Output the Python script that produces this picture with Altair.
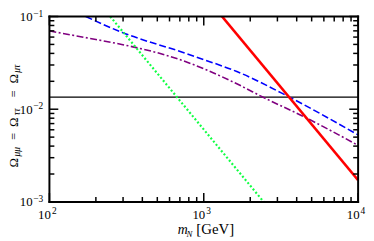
import altair as alt
import pandas as pd

# ---- data ----
blue_m = [172, 297, 711, 1000, 1637, 3589, 10000]
blue_v = [0.1, 0.0671, 0.0417, 0.0343, 0.0255, 0.0135, 0.00528]

purple_m = [100, 200, 294, 711, 1637, 2483, 4467, 10000]
purple_v = [0.0698, 0.0565, 0.0500, 0.0340, 0.0188, 0.0132, 0.00828, 0.00407]

green_m = [220, 2700]
green_v = [0.127, 0.00082]

red_m = [1200, 10000]
red_v = [0.12, 0.00172]

black_m = [100, 10000]
black_v = [0.0135, 0.0135]

x_major = [100, 1000, 10000]
x_minor = [200, 300, 400, 500, 600, 700, 800, 900,
           2000, 3000, 4000, 5000, 6000, 7000, 8000, 9000]
y_major = [0.001, 0.01, 0.1]
y_minor = [0.002, 0.003, 0.004, 0.005, 0.006, 0.007, 0.008, 0.009,
           0.02, 0.03, 0.04, 0.05, 0.06, 0.07, 0.08, 0.09]
x_exp = ["2", "3", "4"]
y_exp = ["\u22123", "\u22122", "\u22121"]

W, H = 313, 188
FONT = "Liberation Serif"

xs = alt.Scale(type="log", domain=[100, 10000], nice=False)
ys = alt.Scale(type="log", domain=[0.001, 0.1], nice=False)


def series(m, v, color, width, dash=None):
    df = pd.DataFrame({"m": m, "v": v})
    kw = dict(color=color, strokeWidth=width, clip=True, interpolate="monotone")
    if dash:
        kw["strokeDash"] = dash
    return alt.Chart(df).mark_line(**kw).encode(
        x=alt.X("m:Q", scale=xs, axis=None),
        y=alt.Y("v:Q", scale=ys, axis=None),
    )


layers = [
    series(black_m, black_v, "black", 1.4),
    series(purple_m, purple_v, "#800080", 1.6, [7, 2.5, 2, 2.5]),
    series(blue_m, blue_v, "#0000ff", 1.6, [7, 3]),
    series(green_m, green_v, "#11ff44", 2.2, [2, 2.2]),
    series(red_m, red_v, "#ff0000", 2.6),
]

# ---- inward ticks on all four sides ----
def xticks(vals, length):
    df = pd.DataFrame({"t": vals})
    b = alt.Chart(df).mark_rule(stroke="#000000", strokeWidth=1.5, opacity=1)
    return [
        b.encode(x=alt.X("t:Q", scale=xs, axis=None), y=alt.value(H), y2=alt.value(H - length)),
        b.encode(x=alt.X("t:Q", scale=xs, axis=None), y=alt.value(0), y2=alt.value(length)),
    ]


def yticks(vals, length):
    df = pd.DataFrame({"t": vals})
    b = alt.Chart(df).mark_rule(stroke="#000000", strokeWidth=1.5, opacity=1)
    return [
        b.encode(y=alt.Y("t:Q", scale=ys, axis=None), x=alt.value(0), x2=alt.value(length)),
        b.encode(y=alt.Y("t:Q", scale=ys, axis=None), x=alt.value(W), x2=alt.value(W - length)),
    ]


layers += xticks(x_major, 9) + xticks(x_minor, 5) + yticks(y_major, 9) + yticks(y_minor, 5)

# ---- frame: four edges ----
edge = alt.Chart(pd.DataFrame({"a": [0]})).mark_rule(stroke="#000000", strokeWidth=2, strokeCap="square", opacity=1)
layers += [
    edge.encode(x=alt.value(0), x2=alt.value(W), y=alt.value(0)),
    edge.encode(x=alt.value(0), x2=alt.value(W), y=alt.value(H)),
    edge.encode(y=alt.value(0), y2=alt.value(H), x=alt.value(0)),
    edge.encode(y=alt.value(0), y2=alt.value(H), x=alt.value(W)),
]

# ---- tick labels 10^k ----
xl = pd.DataFrame({"t": x_major, "b": ["10"] * 3, "e": x_exp})
yl = pd.DataFrame({"t": y_major, "b": ["10"] * 3, "e": y_exp})

layers += [
    alt.Chart(xl).mark_text(font=FONT, fontSize=13, align="right", baseline="alphabetic", dx=1.5, color="black")
    .encode(x=alt.X("t:Q", scale=xs, axis=None), y=alt.value(H + 17), text="b:N"),
    alt.Chart(xl).mark_text(font=FONT, fontSize=9.5, align="left", baseline="alphabetic", dx=2.5, color="black")
    .encode(x=alt.X("t:Q", scale=xs, axis=None), y=alt.value(H + 12.5), text="e:N"),
    alt.Chart(yl).mark_text(font=FONT, fontSize=13, align="right", baseline="alphabetic", dy=4.5, color="black")
    .encode(y=alt.Y("t:Q", scale=ys, axis=None), x=alt.value(-17), text="b:N"),
    alt.Chart(yl).mark_text(font=FONT, fontSize=9.5, align="left", baseline="alphabetic", dy=0, color="black")
    .encode(y=alt.Y("t:Q", scale=ys, axis=None), x=alt.value(-16.5), text="e:N"),
]

# ---- axis titles composed of pieces (subscripts) ----
def piece(text, x, y, size, italic=False, angle=0, align="left"):
    return alt.Chart(pd.DataFrame({"s": [text]})).mark_text(
        font=FONT, fontSize=size, fontStyle="italic" if italic else "normal",
        align=align, baseline="alphabetic", angle=angle, color="black",
    ).encode(text="s:N", x=alt.value(x), y=alt.value(y))


layers += [
    piece("m", 130, 220.5, 14, italic=True),
    piece("N", 139, 223.5, 9, italic=True),
    piece("[GeV]", 149, 220.5, 15),
]

BX = -32
layers += [
    piece("\u03a9", BX, 153, 13, angle=270),
    piece("\u03bc\u03bc", BX + 2.5, 142, 9.5, italic=True, angle=270),
    piece("=", BX, 121.5, 13, angle=270, align="center"),
    piece("\u03a9", BX, 112, 13, angle=270),
    piece("\u03c4\u03c4", BX + 2.5, 100, 9.5, italic=True, angle=270),
    piece("=", BX, 78.5, 13, angle=270, align="center"),
    piece("\u03a9", BX, 68, 13, angle=270),
    piece("\u03bc\u03c4", BX + 2.5, 57, 9.5, italic=True, angle=270),
]

chart = alt.layer(*layers).properties(
    width=W,
    height=H,
    autosize=alt.AutoSizeParams(type="none"),
    padding={"left": 42, "top": 7, "right": 8, "bottom": 38},
).configure(background="white").configure_view(strokeWidth=0)

chart.save("out.html", embed_options={"renderer": "svg", "actions": False})
